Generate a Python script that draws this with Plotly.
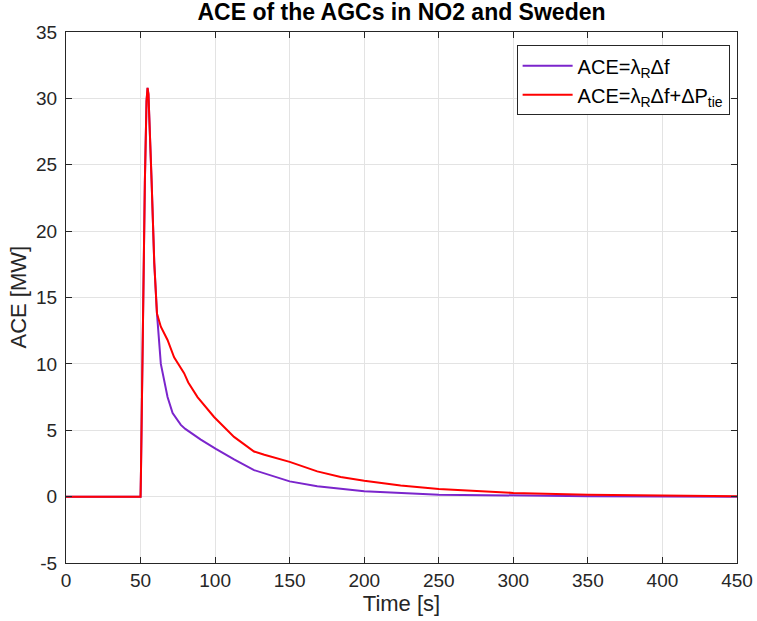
import plotly.graph_objects as go

# Shared rise and peak (both curves coincide here)
t_f = [0, 50, 50.3, 51.8, 52.9, 54.0, 54.7, 55.3, 55.8, 57.4, 59.2, 61.0,
       63.6, 68.1, 71.5, 74.8, 77.0, 80.0, 86.0, 90.4, 100.5, 112.7, 126.1,
       150.0, 168.5, 200.0, 250.0, 291.0, 350.0, 400.0, 450.0]
ace_f = [0, 0, 2.0, 16.3, 23.8, 29.8, 30.8, 30.3, 28.9, 23.8, 17.6, 13.8,
         10.0, 7.5, 6.3, 5.8, 5.4, 5.1, 4.6, 4.3, 3.6, 2.8, 2.0,
         1.15, 0.78, 0.4, 0.15, 0.08, 0.03, 0.01, 0.0]

t_tie = [0, 50, 50.3, 51.8, 52.9, 54.0, 54.7, 55.3, 55.8, 57.4, 59.2, 61.0,
         63.6, 68.1, 72.5, 76.6, 79.2, 82.0, 88.2, 99.3, 112.7, 120.0, 126.1,
         133.0, 141.8, 150.0, 168.5, 184.2, 200.0, 224.4, 250.0, 291.0, 300.0,
         350.0, 400.0, 450.0]
ace_tie = [0, 0, 2.0, 16.3, 23.8, 29.8, 30.8, 30.3, 28.9, 23.8, 17.6, 13.8,
           12.8, 11.8, 10.5, 9.8, 9.3, 8.6, 7.5, 6.0, 4.5, 3.9, 3.4,
           3.15, 2.9, 2.62, 1.9, 1.48, 1.2, 0.83, 0.58, 0.32, 0.28,
           0.15, 0.07, 0.02]

x_ticks = [0, 50, 100, 150, 200, 250, 300, 350, 400, 450]
y_ticks = [-5, 0, 5, 10, 15, 20, 25, 30, 35]
y_tick_labels = ["-5", "0", "5", "10", "15", "20", "25", "30", "35"]

FONT = "Liberation Sans, Arial, Helvetica, sans-serif"
AX = "#262626"

W, H = 757, 621

fig = go.Figure()
fig.add_trace(go.Scatter(x=t_f, y=ace_f, mode="lines",
                         line=dict(color="#7B25CC", width=2),
                         name="ACE=λ<sub>R</sub>Δf"))
fig.add_trace(go.Scatter(x=t_tie, y=ace_tie, mode="lines",
                         line=dict(color="#FF0000", width=2),
                         name="ACE=λ<sub>R</sub>Δf+ΔP<sub>tie</sub>"))

axis_common = dict(showline=True, linecolor=AX, linewidth=1.3, mirror="ticks",
                   ticks="inside", ticklen=6, tickcolor=AX,
                   showgrid=True, gridcolor="#E3E3E3", gridwidth=1,
                   zeroline=False, automargin=False, ticklabeloverflow="allow",
                   tickfont=dict(family=FONT, size=19, color=AX))

fig.update_xaxes(range=[0, 450], tickvals=x_ticks,
                 title=dict(text="Time [s]", font=dict(family=FONT, size=22, color=AX), standoff=0),
                 **axis_common)
fig.update_yaxes(range=[-5, 35], tickvals=y_ticks, ticktext=y_tick_labels,
                 ticklabelstandoff=4, **axis_common)

fig.add_annotation(text="ACE [MW]", xref="paper", yref="paper", x=0, y=0.5,
                   xanchor="center", yanchor="middle", xshift=-48, textangle=-90,
                   showarrow=False, font=dict(family=FONT, size=22, color=AX))

fig.update_layout(
    width=W, height=H,
    margin=dict(l=66, r=20, t=32, b=58),
    paper_bgcolor="white", plot_bgcolor="white",
    title=dict(text="<b>ACE of the AGCs in NO2 and Sweden</b>",
               font=dict(family=FONT, size=23, color="black"),
               x=0.5, xanchor="center", xref="paper", yref="container",
               y=1 - 12 / H, yanchor="middle", automargin=False),
    legend=dict(x=0.989, y=0.975, xanchor="right", yanchor="top",
                bgcolor="white", bordercolor=AX, borderwidth=1,
                font=dict(family=FONT, size=20, color="black"),
                tracegroupgap=0, itemwidth=50),
    showlegend=True,
)

fig.write_html("out.html", config={"displayModeBar": False},
               post_script="document.body.style.margin='0';document.body.style.overflow='hidden';")
